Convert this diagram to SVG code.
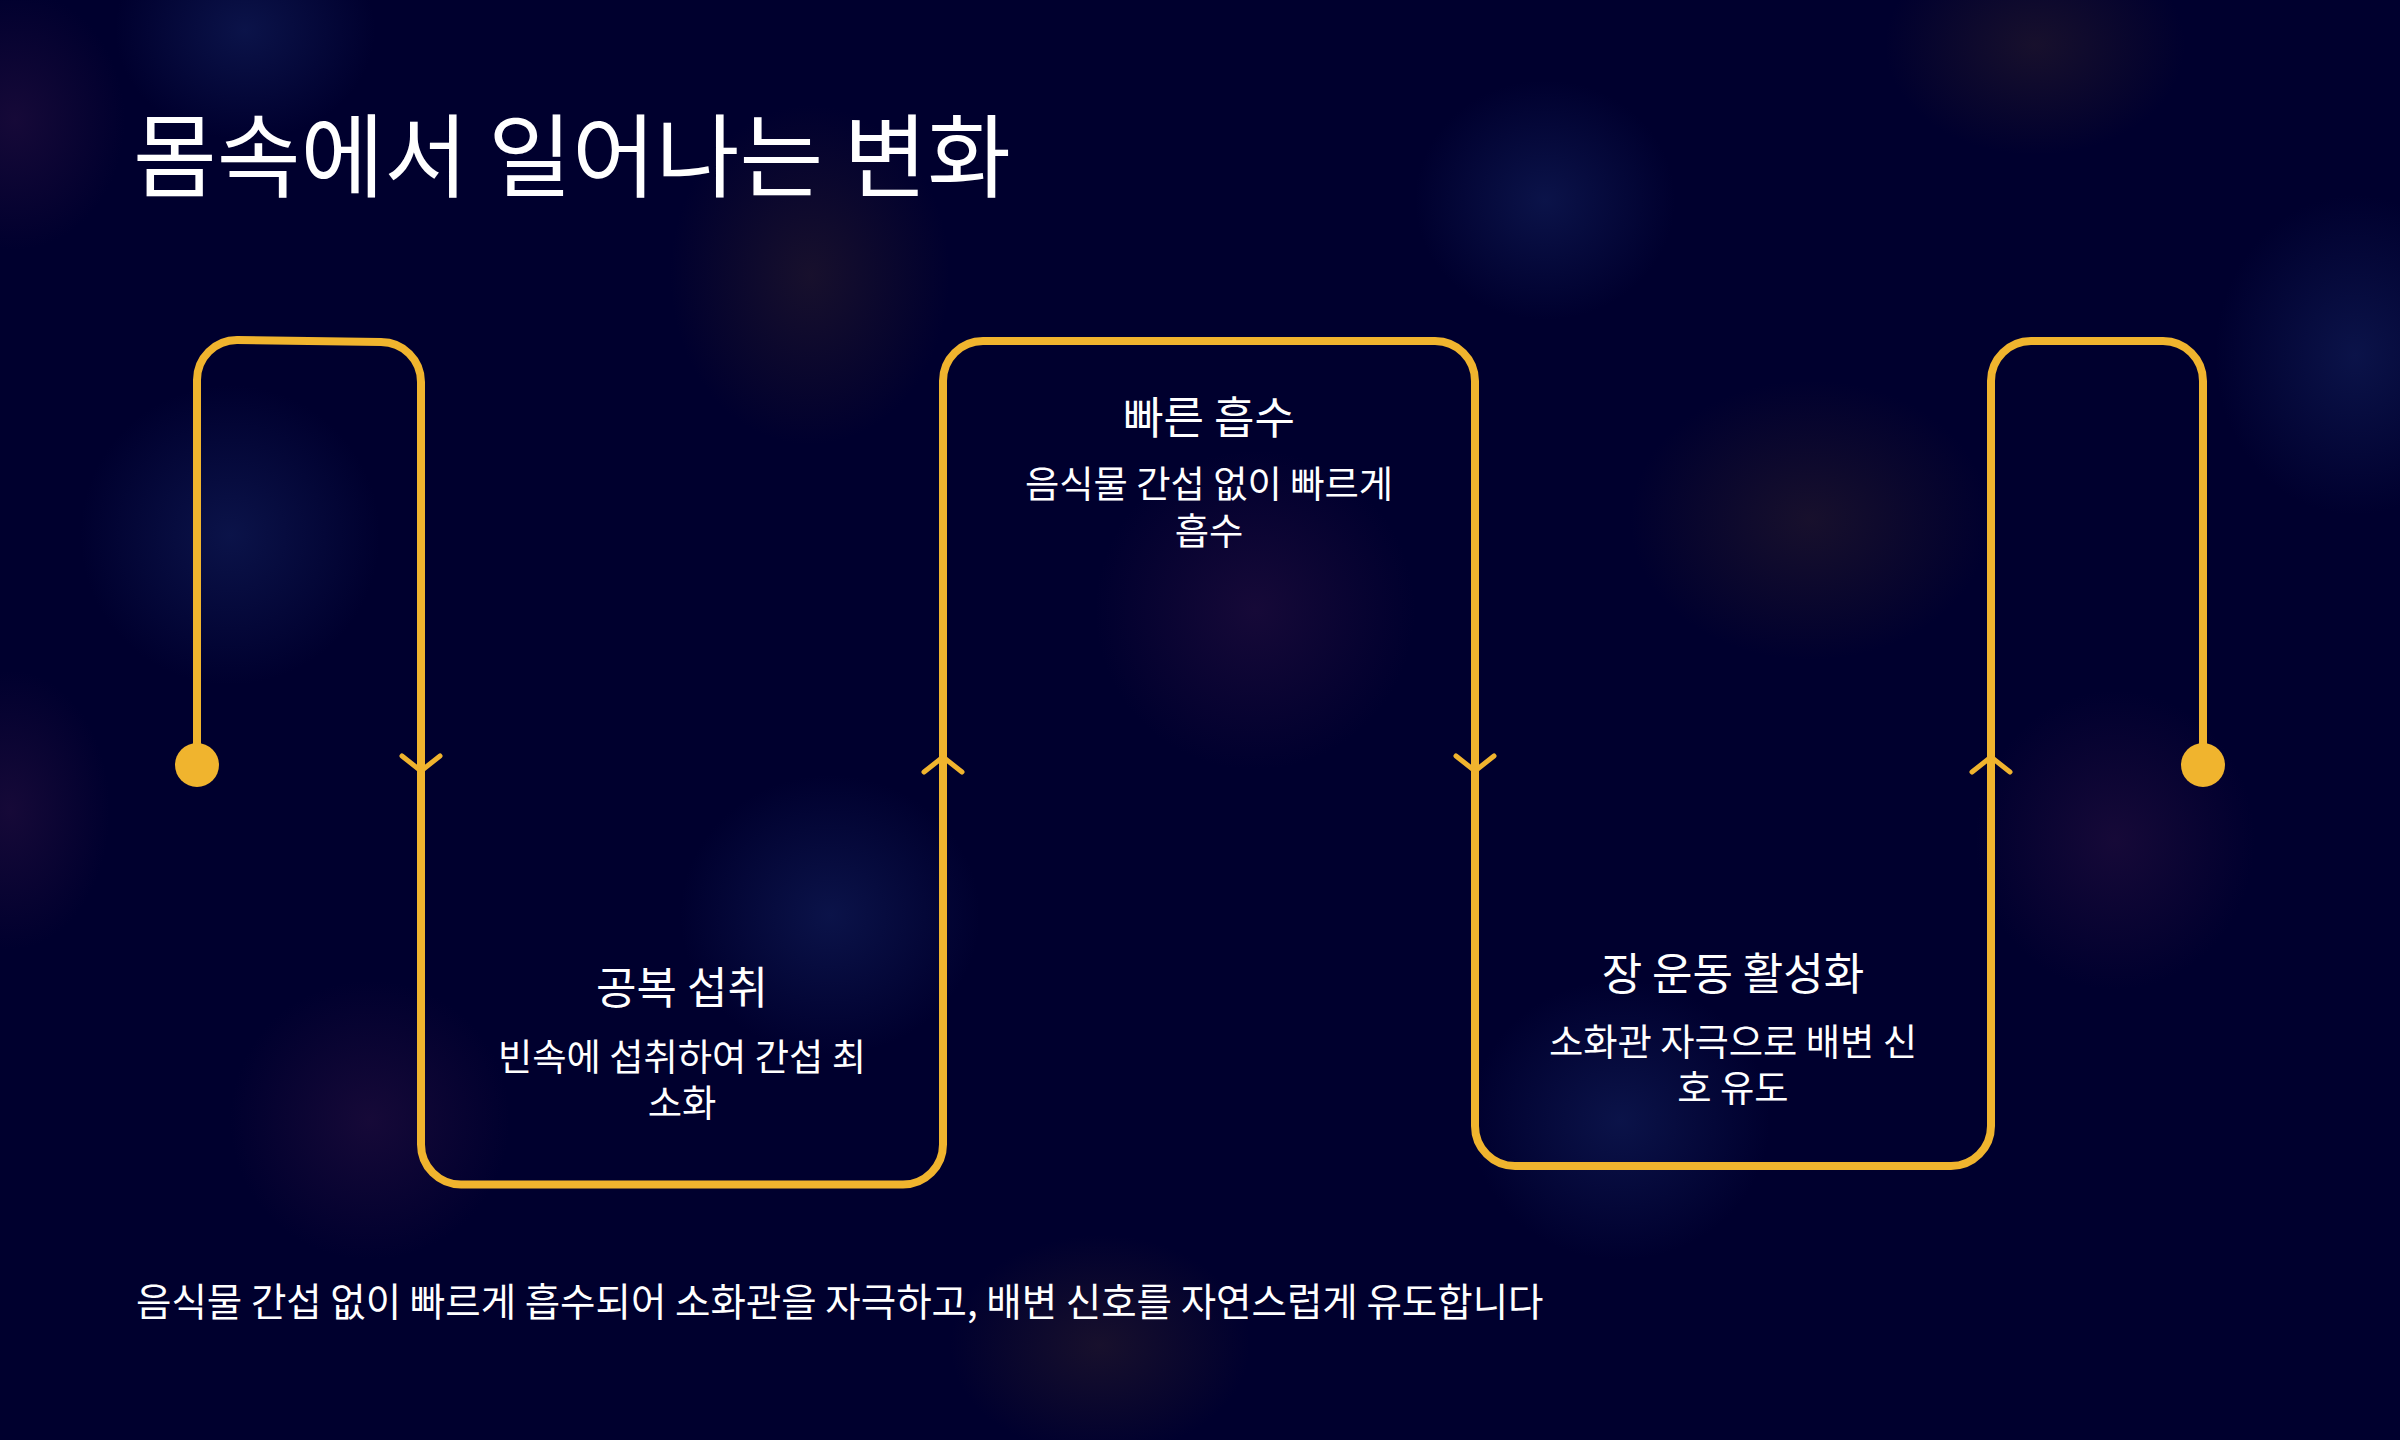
<svg xmlns="http://www.w3.org/2000/svg" width="2400" height="1440" viewBox="0 0 2400 1440">
<defs>
<radialGradient id="gBlue"><stop offset="0" stop-color="#1a2d6e" stop-opacity="0.42"/><stop offset="1" stop-color="#1a2d6e" stop-opacity="0"/></radialGradient>
<radialGradient id="gPurple"><stop offset="0" stop-color="#3a1848" stop-opacity="0.38"/><stop offset="1" stop-color="#3a1848" stop-opacity="0"/></radialGradient>
<radialGradient id="gAmber"><stop offset="0" stop-color="#3e2a2a" stop-opacity="0.38"/><stop offset="1" stop-color="#3e2a2a" stop-opacity="0"/></radialGradient>
<path id="chevDown" d="M-19,-9 L0,6 L19,-9"/>
<path id="chevUp" d="M-19,7 L0,-8 L19,7"/>
</defs>
<style>
.flow{fill:none;stroke:#F0B42E;stroke-width:8;stroke-linecap:round;stroke-linejoin:round}
.chev{fill:none;stroke:#F0B42E;stroke-width:5;stroke-linecap:round;stroke-linejoin:round}
.dot{fill:#F0B42E}
.ttl{font-family:"Noto Sans CJK KR","Noto Sans",sans-serif;fill:#ffffff}
.step{font-family:"Noto Sans CJK KR","Noto Sans",sans-serif;fill:#ffffff;font-size:44px;text-anchor:middle}
.desc{font-family:"Noto Sans CJK KR","Noto Sans",sans-serif;fill:#ffffff;font-size:37.3px;text-anchor:middle}
.foot{font-family:"Noto Sans CJK KR","Noto Sans",sans-serif;fill:#ffffff;font-size:38.5px}
</style>
<rect width="2400" height="1440" fill="#00002E"/>
<g id="background-glow">
<ellipse cx="245" cy="30" rx="130" ry="110" fill="url(#gBlue)"/>
<ellipse cx="15" cy="120" rx="110" ry="130" fill="url(#gPurple)"/>
<ellipse cx="230" cy="535" rx="150" ry="150" fill="url(#gBlue)"/>
<ellipse cx="810" cy="275" rx="140" ry="170" fill="url(#gAmber)"/>
<ellipse cx="1545" cy="200" rx="130" ry="120" fill="url(#gBlue)"/>
<ellipse cx="2355" cy="355" rx="140" ry="160" fill="url(#gBlue)"/>
<ellipse cx="1810" cy="520" rx="180" ry="140" fill="url(#gAmber)"/>
<ellipse cx="1255" cy="610" rx="160" ry="160" fill="url(#gPurple)"/>
<ellipse cx="830" cy="915" rx="150" ry="140" fill="url(#gBlue)"/>
<ellipse cx="370" cy="1120" rx="140" ry="140" fill="url(#gPurple)"/>
<ellipse cx="1620" cy="1120" rx="150" ry="140" fill="url(#gBlue)"/>
<ellipse cx="2115" cy="840" rx="140" ry="150" fill="url(#gPurple)"/>
<ellipse cx="2035" cy="45" rx="150" ry="110" fill="url(#gAmber)"/>
<ellipse cx="1100" cy="1345" rx="150" ry="110" fill="url(#gAmber)"/>
<ellipse cx="10" cy="810" rx="100" ry="140" fill="url(#gPurple)"/>
</g>
<text class="ttl" x="133" y="190" font-size="91">몸속에서 일어나는 변화</text>
<g id="connectors">
<path class="flow" d="M197,765 V380 A40,40 0 0 1 237,340 L381,342 A40,40 0 0 1 421,382 V1144.5 A40,40 0 0 0 461,1184.5 H903 A40,40 0 0 0 943,1144.5 V381 A40,40 0 0 1 983,341 H1435 A40,40 0 0 1 1475,381 V1126 A40,40 0 0 0 1515,1166 H1951 A40,40 0 0 0 1991,1126 V381 A40,40 0 0 1 2031,341 H2163 A40,40 0 0 1 2203,381 V765"/>
<use href="#chevDown" class="chev" x="421" y="765"/>
<use href="#chevUp" class="chev" x="943" y="765"/>
<use href="#chevDown" class="chev" x="1475" y="765"/>
<use href="#chevUp" class="chev" x="1991" y="765"/>
</g>
<g id="start"><circle class="dot" cx="197" cy="765" r="22"/></g>
<g id="step-fasting-intake">
<text class="step" x="682" y="1004">공복 섭취</text>
<text class="desc" x="682" y="1071">빈속에 섭취하여 간섭 최<tspan x="682" dy="46">소화</tspan></text>
</g>
<g id="step-fast-absorption">
<text class="step" x="1209" y="434">빠른 흡수</text>
<text class="desc" x="1209" y="498">음식물 간섭 없이 빠르게<tspan x="1209" dy="47">흡수</tspan></text>
</g>
<g id="step-bowel-activation">
<text class="step" x="1733" y="990">장 운동 활성화</text>
<text class="desc" x="1733" y="1056">소화관 자극으로 배변 신<tspan x="1733" dy="46">호 유도</tspan></text>
</g>
<g id="end"><circle class="dot" cx="2203" cy="765" r="22"/></g>
<text class="foot" x="136" y="1316">음식물 간섭 없이 빠르게 흡수되어 소화관을 자극하고, 배변 신호를 자연스럽게 유도합니다</text>
</svg>
